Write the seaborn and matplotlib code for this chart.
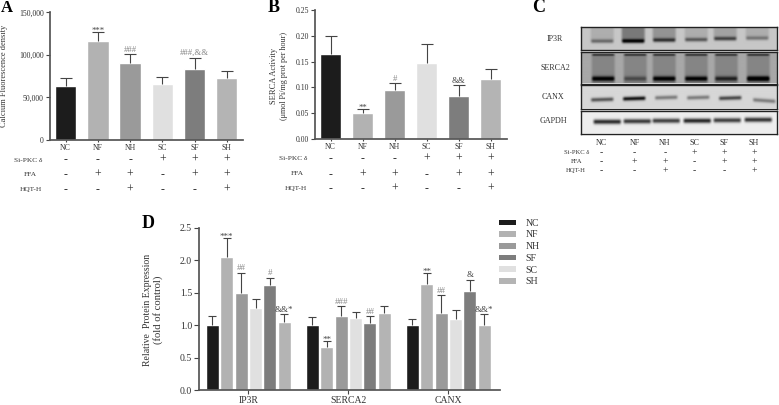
import numpy as np
import pandas as pd
import seaborn as sns
import matplotlib.pyplot as plt
from matplotlib.patches import Patch

W, H = 779, 405

groups = ['NC', 'NF', 'NH', 'SC', 'SF', 'SH']
colors = {'NC': '#1c1c1c', 'NF': '#b2b2b2', 'NH': '#9a9a9a',
          'SC': '#e0e0e0', 'SF': '#7d7d7d', 'SH': '#b4b4b4'}
legend_order = ['NC', 'NF', 'NH', 'SF', 'SC', 'SH']

calcium = [64000, 116000, 91000, 65500, 84000, 72500]
calcium_top = [73000, 126500, 101000, 74500, 97000, 81500]
calcium_sig = ['', '***', '###', '', '###,&&', '']

serca = [0.164, 0.051, 0.095, 0.148, 0.084, 0.117]
serca_top = [0.200, 0.058, 0.108, 0.184, 0.104, 0.136]
serca_sig = ['', '**', '#', '', '&&', '']

si_pkc = ['-', '-', '-', '+', '+', '+']
ffa = ['-', '+', '+', '-', '+', '+']
hqt = ['-', '-', '+', '-', '-', '+']

genes = ['IP3R', 'SERCA2', 'CANX']
ip3r = [1.0, 2.05, 1.49, 1.27, 1.62, 1.05]
ip3r_top = [1.15, 2.34, 1.81, 1.40, 1.73, 1.17]
ip3r_sig = ['', '***', '##', '', '#', '&&*']
serca2 = [1.0, 0.67, 1.14, 1.11, 1.03, 1.19]
serca2_top = [1.12, 0.76, 1.29, 1.21, 1.14, 1.29]
serca2_sig = ['', '**', '###', '', '##', '']
canx = [1.0, 1.64, 1.19, 1.09, 1.52, 1.01]
canx_top = [1.09, 1.80, 1.46, 1.24, 1.70, 1.17]
canx_sig = ['', '**', '##', '', '&', '&&*']

# blot bands, one entry per lane
ip3r_y = [41, 41, 40, 39.5, 38.5, 38]
ip3r_dark = [0.35, 0.75, 0.55, 0.42, 0.50, 0.30]
ip3r_smear = [0.10, 0.30, 0.20, 0.10, 0.14, 0.10]
ip3r_x = [602, 633, 664, 696, 725, 757]
serca2_dark = [0.60, 0.25, 0.60, 0.58, 0.42, 0.72]
serca2_x = [603, 635, 664, 696, 726, 758]
canx_y = [100, 99, 98, 98, 98.5, 101]
canx_dark = [0.52, 0.80, 0.36, 0.36, 0.58, 0.36]
canx_x = [602, 634, 666, 698, 730, 764]
gapdh_y = [122, 121.5, 121, 121, 120.5, 120]
gapdh_dark = [0.78, 0.72, 0.70, 0.80, 0.70, 0.75]
gapdh_x = [607, 637, 666, 697, 727, 758]

sns.set_theme(style='ticks')
plt.rcParams['font.family'] = ['Liberation Serif', 'DejaVu Sans']
plt.rcParams['text.color'] = '#333333'
plt.rcParams['axes.edgecolor'] = '#555555'
plt.rcParams['xtick.color'] = '#444444'
plt.rcParams['ytick.color'] = '#444444'
plt.rcParams['xtick.labelcolor'] = '#333333'
plt.rcParams['ytick.labelcolor'] = '#333333'

fig = plt.figure(figsize=(W / 100, H / 100), dpi=100)


def box(left, top, right, bottom):
    return fig.add_axes([left / W, 1 - bottom / H, (right - left) / W, (bottom - top) / H])


def put(x, y, s, size, **kw):
    kw.setdefault('ha', 'center')
    kw.setdefault('va', 'center')
    fig.text(x / W, 1 - y / H, s, fontsize=size, **kw)


def errors(ax, bars, tops, sigs, cap, size):
    for bar, top, sig in zip(bars, tops, sigs):
        x = bar.get_x() + bar.get_width() / 2
        val = bar.get_height()
        eb = ax.errorbar(x, val, yerr=[[0], [top - val]], color='#444444', elinewidth=0.8,
                         capsize=cap, capthick=0.8, zorder=1)
        # only the upper cap
        eb[1][0].set_visible(False)
        if sig:
            col = '#888888' if sig[0] == '#' else '#444444'
            lift = -2 if sig[0] == '*' else 0.3
            ax.annotate(sig, (x, top), xytext=(0, lift), textcoords='offset points',
                        ha='center', va='bottom', fontsize=size, color=col)


def single_panel(px, vals, tops, sigs, ymax, yticks, ylabels):
    df = pd.DataFrame({'group': groups, 'value': vals})
    ax = box(*px)
    sns.barplot(data=df, x='group', y='value', hue='group', palette=colors, legend=False,
                width=0.66, ax=ax, errorbar=None, saturation=1)
    errors(ax, ax.patches, tops, sigs, 4.2, 6.3)
    ax.set_xlim(-0.488, 5.506)
    ax.set_ylim(0, ymax)
    ax.set_yticks(yticks, ylabels)
    ax.set_xlabel('')
    ax.set_ylabel('')
    ax.tick_params(axis='y', labelsize=5.6, length=3, width=0.8, pad=1.5)
    ax.tick_params(axis='x', labelsize=5.6, length=1.5, width=0.8, pad=1.5)
    sns.despine(ax=ax)
    return ax


def sign_rows(ax, rows, ys, size):
    for signs, y in zip(rows, ys):
        for i, s in enumerate(signs):
            x = ax.transData.transform((i, 0))[0]
            put(x, y, s, size)


# panel A
ax_a = single_panel((50, 12.5, 243, 140), calcium, calcium_top, calcium_sig, 150000,
                    [0, 50000, 100000, 150000], ['0', '50,000', '100,000', '150,000'])
put(4.5, 76, 'Calcium Fluorescence density', 6, rotation=90)
sign_rows(ax_a, [si_pkc, ffa, hqt], [160, 175, 190], 8.5)
put(28, 160, 'Si-PKC δ', 5.3)
put(30, 175, 'FFA', 5.3)
put(31, 189.5, 'HQT-H', 5.3)

# panel B
ax_b = single_panel((315, 10.3, 507, 138.7), serca, serca_top, serca_sig, 0.25,
                    [0, 0.05, 0.10, 0.15, 0.20, 0.25],
                    ['0.00', '0.05', '0.10', '0.15', '0.20', '0.25'])
put(274, 76, 'SERCA Activity', 6, rotation=90)
put(284, 75.5, '(μmol Pi/mg prot per hour)', 5.9, rotation=90)
sign_rows(ax_b, [si_pkc, ffa, hqt], [159, 175, 189], 8.5)
put(293, 159, 'Si-PKC δ', 5.3)
put(297, 174, 'FFA', 5.3)
put(296, 188.5, 'HQT-H', 5.3)

# panel D
long_df = pd.DataFrame({
    'gene': np.repeat(genes, len(groups)),
    'group': groups * len(genes),
    'value': ip3r + serca2 + canx,
})
ax_d = box(199, 227.7, 500, 390.3)
sns.barplot(data=long_df, x='gene', y='value', hue='group', hue_order=groups, palette=colors,
            width=0.864, gap=0.1, ax=ax_d, errorbar=None, saturation=1, legend=False)
d_bars = sorted(ax_d.patches, key=lambda b: b.get_x())
errors(ax_d, d_bars, ip3r_top + serca2_top + canx_top, ip3r_sig + serca2_sig + canx_sig,
       2.6, 6.5)
ax_d.set_xlim(-0.493, 2.517)
ax_d.set_ylim(0, 2.5)
ax_d.set_yticks([0, 0.5, 1.0, 1.5, 2.0, 2.5], ['0.0', '0.5', '1.0', '1.5', '2.0', '2.5'])
ax_d.set_xlabel('')
ax_d.set_ylabel('')
ax_d.tick_params(axis='y', labelsize=7, length=3.5, width=0.8, pad=1.5)
ax_d.tick_params(axis='x', labelsize=7, length=3, width=0.8, pad=1)
sns.despine(ax=ax_d)
put(147, 310, 'Relative  Protein Expression', 7, rotation=90)
put(158.5, 310, '(fold of control)', 7.7, rotation=90)

handles = [Patch(facecolor=colors[g], edgecolor='none', label=g) for g in legend_order]
fig.legend(handles=handles, loc='upper left', bbox_to_anchor=(490 / W, 1 - 210 / H), frameon=False,
           fontsize=7, handlelength=1.75, handleheight=0.5, labelspacing=0.28, handletextpad=1.0,
           borderpad=0.4)


# panel C
def blot(left, top, right, bottom, base):
    ax = box(left, top, right, bottom)
    yy, xx = np.mgrid[top:bottom:0.5, left:right:0.5]
    return ax, xx, yy, np.full(xx.shape, base, dtype=float)


def lane_mask(xx, cx, half):
    return np.clip((half + 2 - np.abs(xx - cx)) / 3, 0, 1)


def band(img, xx, yy, cx, cy, half, thick, dark, tilt=0.0):
    centre = cy + tilt * (xx - cx)
    return img - dark * lane_mask(xx, cx, half) * np.exp(-((yy - centre) / thick) ** 2)


def finish(ax, img, extent):
    ax.imshow(np.clip(img, 0, 1), cmap='gray', vmin=0, vmax=1, aspect='auto',
              interpolation='bicubic', extent=extent)
    ax.set_xticks([])
    ax.set_yticks([])
    for sp in ax.spines.values():
        sp.set_color('#222222')
        sp.set_linewidth(1)
        sp.set_visible(True)


ax, xx, yy, img = blot(581, 27, 777, 50, 0.78)
for cx, cy, d, sm in zip(ip3r_x, ip3r_y, ip3r_dark, ip3r_smear):
    img -= sm * lane_mask(xx, cx, 11) * np.clip((cy + 1 - yy) / 3, 0, 1)
    img = band(img, xx, yy, cx, cy, 10.5, 1.9, d)
finish(ax, img, (581, 777, 50, 27))

ax, xx, yy, img = blot(581, 52, 777, 83.5, 0.66)
for cx, d in zip(serca2_x, serca2_dark):
    img -= 0.14 * lane_mask(xx, cx, 11) * np.clip((yy - 54) / 3, 0, 1)
    img = band(img, xx, yy, cx, 55.5, 10.5, 0.9, 0.5)
    img = band(img, xx, yy, cx, 79, 10.5, 2.3, d)
finish(ax, img, (581, 777, 83.5, 52))

ax, xx, yy, img = blot(581, 85, 777, 108.5, 0.84)
for i, (cx, cy, d) in enumerate(zip(canx_x, canx_y, canx_dark)):
    img = band(img, xx, yy, cx, cy, 10.5, 1.9, d, 0.07 if i == 5 else -0.03)
finish(ax, img, (581, 777, 108.5, 85))

ax, xx, yy, img = blot(581, 110.5, 777, 133.5, 0.93)
for cx, cy, d in zip(gapdh_x, gapdh_y, gapdh_dark):
    img = band(img, xx, yy, cx, cy, 13, 2.3, d)
finish(ax, img, (581, 777, 133.5, 110.5))

put(555, 38.7, 'IP3R', 5.8)
put(555, 68, 'SERCA2', 5.8)
put(553, 97, 'CANX', 5.8)
put(553, 120.7, 'GAPDH', 5.8)

c_lane_x = [601.5, 634.5, 665, 694, 724, 754]
c_rows = [si_pkc, ffa, hqt]
c_row_y = [153, 162, 171]
for x, g in zip(c_lane_x, groups):
    put(x, 142.7, g, 5.8)
for signs, y in zip(c_rows, c_row_y):
    for x, s in zip(c_lane_x, signs):
        put(x, y, s, 7)
put(577, 153, 'Si-PKC δ', 4.8)
put(577, 161.7, 'FFA', 4.8)
put(576, 170.7, 'HQT-H', 4.8)

# panel letters
put(7, 8.5, 'A', 12, weight='bold', color='black')
put(273.5, 7.5, 'B', 13, weight='bold', color='black')
put(538.5, 7.5, 'C', 13, weight='bold', color='black')
put(148, 223.5, 'D', 13, weight='bold', color='black')

fig.savefig('out.png', dpi=100)
